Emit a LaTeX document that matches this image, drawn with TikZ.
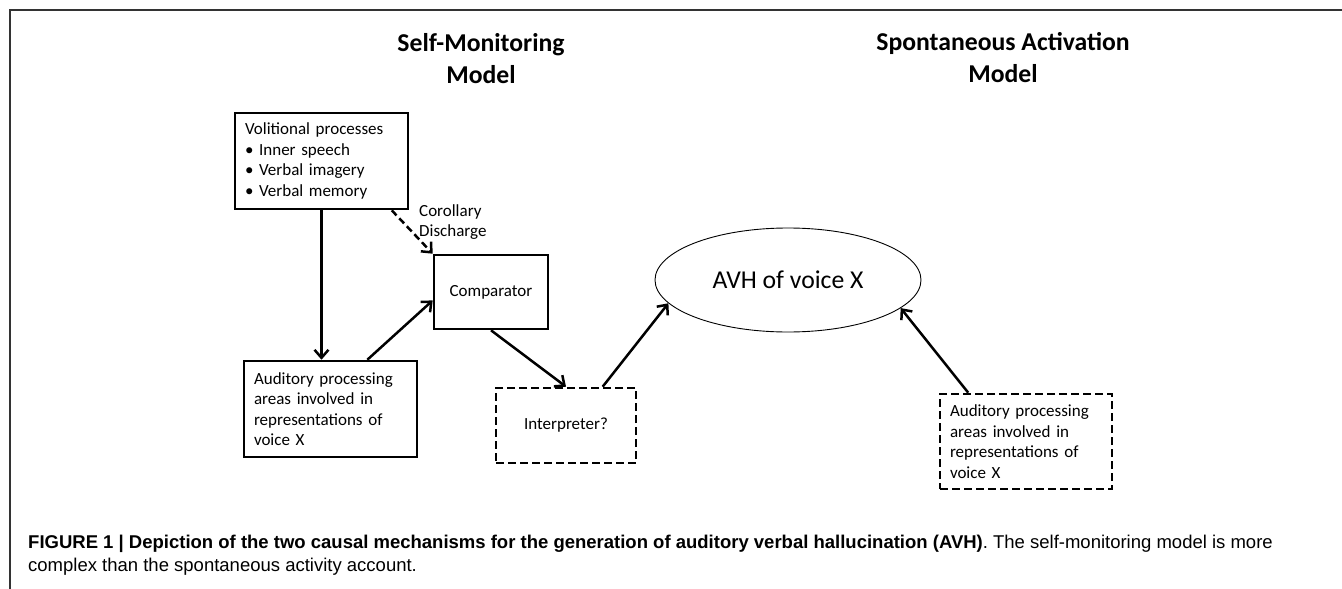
\documentclass[tikz,border=0pt]{standalone}
\usepackage{fontspec}
\setmainfont{Carlito}
\newfontfamily\capfont{Liberation Sans}
\usetikzlibrary{arrows.meta,shapes.geometric,calc}
\begin{document}
\begin{tikzpicture}[x=1pt,y=-1pt,
  box/.style={draw=black,line width=2.6pt,inner sep=0pt,align=left,font=\fontsize{17}{20.5}\selectfont},
  dbox/.style={box,dash pattern=on 8pt off 4pt},
  arr/.style={line width=2.5pt,-{Straight Barb[length=8pt,width=14pt,line width=2.5pt]}},
  darr/.style={arr,dash pattern=on 7pt off 4pt},
  title/.style={font=\bfseries\fontsize{25.7}{32}\selectfont,align=center},
  lbl/.style={font=\fontsize{17}{20}\selectfont,align=left,inner sep=0pt},
]
\useasboundingbox (0,0) rectangle (1342,589);
\fill[white] (0,0) rectangle (1342,589);
\draw[line width=1.3pt,black!80] (10,589) -- (10,10) -- (1342,10);

\node[title] (t1) at (481,59) {Self-Monitoring\\Model};
\node[title] (t2) at (1003,58) {Spontaneous Activation\\Model};

\node[box,minimum width=173pt,minimum height=96pt,text width=153pt] (vol) at (321.5,161)
  {Volitional processes\\\textbullet\ Inner speech\\\textbullet\ Verbal imagery\\\textbullet\ Verbal memory};
\node[box,minimum width=173pt,minimum height=96pt,text width=153pt] (aud) at (330.5,409)
  {Auditory processing\\areas involved in\\representations of\\voice X};
\node[box,minimum width=114pt,minimum height=74pt,align=center] (cmp) at (491,292) {Comparator};
\node[dbox,minimum width=140pt,minimum height=75pt,align=center] (int) at (566,425.5) {Interpreter?};
\node[draw=black,line width=0.9pt,ellipse,inner sep=0pt,minimum width=266pt,minimum height=104pt,
  font=\fontsize{25.7}{30}\selectfont] (avh) at (788,280) {AVH of voice X};
\node[dbox,minimum width=172pt,minimum height=95pt,text width=152pt] (rbox) at (1026,441.5)
  {Auditory processing\\areas involved in\\representations of\\voice X};
\node[lbl,anchor=west] (cd) at (419,222) {Corollary\\Discharge};

\draw[arr] (vol.south) -- (vol.south |- aud.north);
\draw[arr] ($(aud.north west)!0.71!(aud.north east)$) -- ($(cmp.south west)!0.39!(cmp.north west)$);
\draw[darr] ($(vol.south west)!0.9!(vol.south east)$) -- (cmp.north west);
\draw[arr] (cmp.south) -- (int.north);
\draw[arr] ($(int.north west)!0.757!(int.north east)$) -- (avh.191);
\draw[arr] ($(rbox.north west)!0.169!(rbox.north east)$) -- (avh.346);

\node[anchor=west,align=left,inner sep=0pt,font=\capfont\fontsize{18.5}{22.5}\selectfont] (cap) at (28,555)
  {{\bfseries FIGURE 1 | Depiction of the two causal mechanisms for the generation of auditory verbal hallucination (AVH)}. The self-monitoring model is more\\complex than the spontaneous activity account.};
\end{tikzpicture}
\end{document}
